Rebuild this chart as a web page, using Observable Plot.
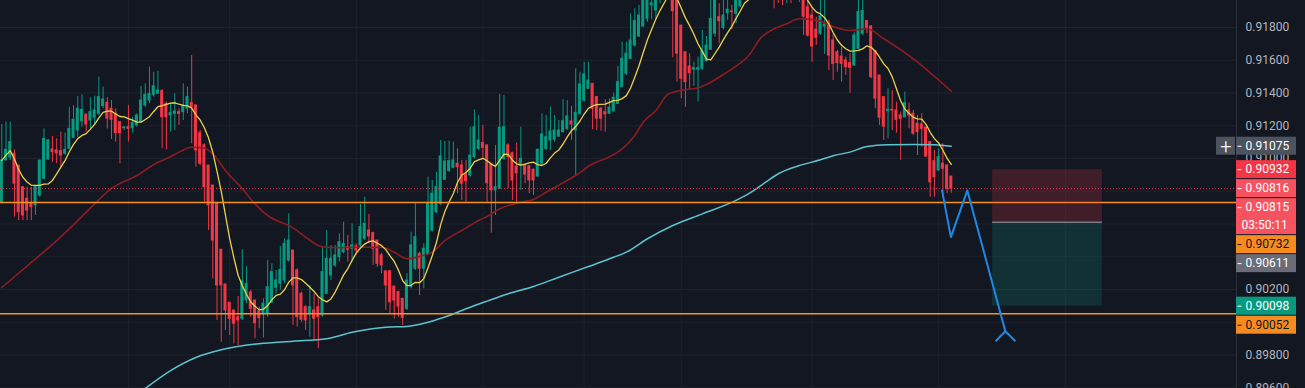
<!DOCTYPE html>
<html><head><meta charset="utf-8">
<script src="https://cdn.jsdelivr.net/npm/d3@7"></script>
<script src="https://cdn.jsdelivr.net/npm/@observablehq/plot@0.6"></script>
<style>
html,body{margin:0;padding:0;background:#131722;overflow:hidden}
#chart{width:1305px;height:388px;overflow:hidden}
</style>
</head><body><div id="chart"></div>
<script>
// ---- candle data (bar index = position in arrays) ----
const barOpen = [0.90733,0.90988,0.91008,0.91029,0.90957,0.90825,0.90754,0.90723,0.90713,0.90774,
0.90876,0.90994,0.91055,0.91049,0.91045,0.91029,0.91059,0.91126,0.91171,0.91228,
0.91267,0.91232,0.91249,0.91273,0.91320,0.91340,0.91304,0.91273,0.91222,0.91185,
0.91191,0.91185,0.91202,0.91222,0.91324,0.91354,0.91389,0.91395,0.91411,0.91334,
0.91263,0.91273,0.91283,0.91283,0.91304,0.91338,0.91324,0.91155,0.91080,0.90957,
0.90835,0.90723,0.90443,0.90231,0.90119,0.90072,0.90031,0.90021,0.90133,0.90182,
0.90133,0.90066,0.90047,0.90052,0.90122,0.90210,0.90235,0.90255,0.90377,0.90438,
0.90316,0.90174,0.90092,0.90052,0.90072,0.90092,0.90041,0.90174,0.90286,0.90347,
0.90397,0.90428,0.90458,0.90449,0.90463,0.90469,0.90510,0.90560,0.90544,0.90499,
0.90408,0.90310,0.90312,0.90218,0.90184,0.90143,0.90082,0.90214,0.90327,0.90418,
0.90327,0.90418,0.90560,0.90672,0.90723,0.90870,0.90923,0.90943,0.90968,0.90957,
0.90902,0.90896,0.91008,0.91059,0.91094,0.91080,0.90968,0.90805,0.90815,0.90998,
0.91080,0.91032,0.90951,0.90957,0.90957,0.90953,0.90931,0.90890,0.90968,0.91059,
0.91110,0.91114,0.91134,0.91161,0.91181,0.91226,0.91171,0.91273,0.91354,0.91426,
0.91456,0.91375,0.91304,0.91283,0.91273,0.91289,0.91334,0.91436,0.91517,0.91609,
0.91690,0.91745,0.91806,0.91853,0.91936,0.91904,0.92014,0.92087,0.92057,0.92118,
0.91965,0.91812,0.91649,0.91562,0.91542,0.91542,0.91548,0.91594,0.91664,0.91762,
0.91863,0.91798,0.91887,0.91898,0.91884,0.91928,0.92026,0.92118,0.92057,0.92148,
0.92209,0.92136,0.92075,0.92148,0.92038,0.91996,0.91977,0.92026,0.91983,0.92038,
0.91996,0.91924,0.91873,0.91786,0.91762,0.91806,0.91823,0.91721,0.91649,0.91623,
0.91599,0.91582,0.91568,0.91670,0.91762,0.91839,0.91806,0.91655,0.91507,0.91375,
0.91289,0.91297,0.91293,0.91263,0.91252,0.91293,0.91273,0.91212,0.91208,0.91188,
0.91100,0.90984,0.90927,0.90968,0.90957,0.90890];

const barHigh = [0.91208,0.91222,0.91222,0.91053,0.90957,0.90825,0.90825,0.90825,0.90829,0.90988,
0.91181,0.91116,0.91134,0.91120,0.91161,0.91155,0.91313,0.91324,0.91379,0.91389,
0.91273,0.91371,0.91381,0.91497,0.91436,0.91371,0.91354,0.91304,0.91222,0.91195,
0.91324,0.91252,0.91273,0.91440,0.91456,0.91558,0.91527,0.91533,0.91421,0.91344,
0.91338,0.91395,0.91304,0.91456,0.91436,0.91629,0.91324,0.91171,0.91090,0.90957,
0.90835,0.90723,0.90443,0.90231,0.90119,0.90072,0.90157,0.90443,0.90340,0.90194,
0.90133,0.90092,0.90143,0.90377,0.90357,0.90316,0.90463,0.90510,0.90662,0.90438,
0.90327,0.90184,0.90102,0.90225,0.90174,0.90143,0.90463,0.90560,0.90469,0.90469,
0.90540,0.90611,0.90530,0.90601,0.90479,0.90719,0.90764,0.90658,0.90550,0.90499,
0.90422,0.90316,0.90316,0.90218,0.90190,0.90143,0.90296,0.90550,0.90733,0.90428,
0.90479,0.90886,0.90866,0.90916,0.91110,0.91104,0.91106,0.91100,0.91059,0.90988,
0.90988,0.91191,0.91297,0.91263,0.91202,0.91080,0.90968,0.91080,0.91391,0.91385,
0.91090,0.91039,0.91094,0.91191,0.90968,0.90957,0.90937,0.91059,0.91273,0.91263,
0.91313,0.91263,0.91232,0.91359,0.91354,0.91318,0.91548,0.91527,0.91588,0.91588,
0.91456,0.91379,0.91313,0.91360,0.91365,0.91399,0.91562,0.91710,0.91710,0.91884,
0.91914,0.91935,0.92057,0.92087,0.92057,0.92118,0.92179,0.92179,0.92209,0.92148,
0.91996,0.91812,0.91649,0.91640,0.91588,0.91619,0.91782,0.91745,0.91965,0.92057,
0.91945,0.91996,0.91996,0.91935,0.92087,0.92148,0.92179,0.92209,0.92240,0.92301,
0.92270,0.92179,0.92209,0.92179,0.92087,0.92057,0.92087,0.92075,0.92099,0.92118,
0.92057,0.91965,0.91924,0.91863,0.91965,0.91965,0.91843,0.91762,0.91660,0.91680,
0.91619,0.91640,0.91771,0.91965,0.91996,0.91843,0.91812,0.91660,0.91507,0.91375,
0.91426,0.91415,0.91344,0.91283,0.91405,0.91338,0.91293,0.91263,0.91273,0.91195,
0.91100,0.91049,0.91059,0.91090,0.90963,0.90890];

const barLow = [0.90723,0.90988,0.90988,0.90642,0.90621,0.90621,0.90621,0.90621,0.90652,0.90764,
0.90876,0.90988,0.90977,0.90968,0.90947,0.91018,0.91059,0.91120,0.91130,0.91191,
0.91161,0.91181,0.91202,0.91263,0.91304,0.91181,0.91116,0.91100,0.90968,0.91171,
0.91100,0.91155,0.91191,0.91222,0.91313,0.91334,0.91375,0.91395,0.91059,0.91053,
0.91161,0.91171,0.91202,0.91232,0.91273,0.91090,0.90947,0.90957,0.90733,0.90560,
0.90265,0.90011,0.89878,0.89950,0.89919,0.89868,0.89858,0.90011,0.90113,0.90031,
0.89899,0.89960,0.89905,0.90031,0.90113,0.90174,0.90194,0.90235,0.90367,0.89980,
0.89970,0.90000,0.89950,0.89909,0.89889,0.89838,0.90031,0.90174,0.90255,0.90336,
0.90367,0.90418,0.90367,0.90367,0.90408,0.90458,0.90499,0.90479,0.90347,0.90336,
0.90296,0.90072,0.90052,0.90021,0.90031,0.89980,0.90072,0.90204,0.90316,0.90163,
0.90204,0.90408,0.90550,0.90662,0.90713,0.90866,0.90916,0.90937,0.90785,0.90744,
0.90733,0.90886,0.90998,0.91049,0.90998,0.90733,0.90544,0.90652,0.90815,0.90988,
0.90815,0.90744,0.90723,0.90805,0.90846,0.90785,0.90774,0.90886,0.90957,0.91049,
0.91049,0.91100,0.91130,0.91157,0.91171,0.91110,0.90896,0.91263,0.91344,0.91420,
0.91175,0.91171,0.91167,0.91161,0.91269,0.91283,0.91330,0.91432,0.91507,0.91603,
0.91680,0.91741,0.91802,0.91832,0.91847,0.91853,0.91945,0.91996,0.91983,0.91615,
0.91466,0.91365,0.91313,0.91420,0.91440,0.91344,0.91538,0.91588,0.91660,0.91741,
0.91701,0.91786,0.91843,0.91786,0.91823,0.91924,0.91996,0.92014,0.92026,0.92087,
0.92057,0.91996,0.92014,0.91914,0.91947,0.91934,0.91947,0.91945,0.91971,0.91953,
0.91751,0.91741,0.91588,0.91690,0.91751,0.91635,0.91537,0.91476,0.91527,0.91466,
0.91507,0.91399,0.91562,0.91664,0.91751,0.91762,0.91487,0.91304,0.91202,0.91110,
0.91120,0.91171,0.91155,0.90988,0.91249,0.91181,0.91141,0.91018,0.91069,0.91008,
0.90764,0.90764,0.90923,0.90764,0.90785,0.90788];

const barClose = [0.90988,0.91053,0.91100,0.90846,0.90672,0.90652,0.90682,0.90703,0.90829,0.90988,
0.91120,0.91110,0.91039,0.91032,0.91018,0.91053,0.91181,0.91236,0.91304,0.91297,
0.91208,0.91283,0.91293,0.91375,0.91360,0.91243,0.91236,0.91155,0.91155,0.91189,
0.91181,0.91218,0.91263,0.91354,0.91389,0.91395,0.91442,0.91415,0.91252,0.91252,
0.91277,0.91287,0.91273,0.91324,0.91375,0.91313,0.91049,0.90968,0.90825,0.90713,
0.90499,0.90225,0.90225,0.90072,0.90021,0.89991,0.90011,0.90249,0.90235,0.90082,
0.89994,0.90025,0.90113,0.90214,0.90306,0.90255,0.90320,0.90479,0.90499,0.90225,
0.90031,0.90015,0.90011,0.90092,0.90021,0.90031,0.90306,0.90388,0.90388,0.90408,
0.90489,0.90479,0.90443,0.90469,0.90438,0.90581,0.90601,0.90524,0.90449,0.90357,
0.90347,0.90225,0.90122,0.90133,0.90096,0.90027,0.90255,0.90469,0.90520,0.90327,
0.90449,0.90723,0.90785,0.90825,0.91012,0.90982,0.90984,0.90988,0.90947,0.90846,
0.90862,0.91018,0.91191,0.91110,0.91065,0.90849,0.90805,0.90825,0.91188,0.91191,
0.91008,0.90866,0.90910,0.90998,0.90902,0.90866,0.90866,0.91053,0.91147,0.91130,
0.91165,0.91171,0.91171,0.91228,0.91257,0.91208,0.91279,0.91452,0.91513,0.91476,
0.91304,0.91243,0.91243,0.91269,0.91310,0.91371,0.91466,0.91609,0.91640,0.91721,
0.91839,0.91873,0.91996,0.92014,0.91948,0.92026,0.92087,0.92057,0.92118,0.91900,
0.91640,0.91487,0.91466,0.91521,0.91552,0.91552,0.91654,0.91690,0.91853,0.91996,
0.91839,0.91873,0.91908,0.91894,0.91996,0.92057,0.92118,0.92057,0.92148,0.92209,
0.92136,0.92075,0.92148,0.92038,0.91996,0.91977,0.92026,0.91983,0.92038,0.91996,
0.91867,0.91751,0.91684,0.91737,0.91867,0.91818,0.91629,0.91578,0.91582,0.91578,
0.91558,0.91554,0.91751,0.91894,0.91900,0.91798,0.91497,0.91365,0.91249,0.91195,
0.91297,0.91293,0.91236,0.91243,0.91338,0.91263,0.91151,0.91161,0.91181,0.91012,
0.90855,0.90886,0.91008,0.90937,0.90815,0.90816];

// ---- moving averages (bar index, value) ----
const slowMaIdx = [0,7,13,18,22,26,32,37,39,42,45,48,50,53,57,60,63,67,68,72,75,77,80,85,90,93,96,99,102,105,
109,113,115,118,123,126,129,133,136,140,143,147,150,152,155,158,162,165,168,171,174,177,180,183,186,189,194,197,201,205,
209,213,217,221,225];
const slowMaVal = [0.90212,0.90365,0.90499,0.90621,0.90723,0.90817,0.90896,0.90977,0.90998,0.91039,
0.91069,0.91063,0.91029,0.90927,0.90815,0.90723,0.90652,0.90601,0.90591,0.90520,
0.90469,0.90458,0.90455,0.90458,0.90458,0.90428,0.90388,0.90402,0.90428,0.90499,
0.90560,0.90621,0.90646,0.90693,0.90733,0.90750,0.90794,0.90852,0.90896,0.90968,
0.90998,0.91059,0.91141,0.91222,0.91293,0.91395,0.91420,0.91432,0.91466,0.91513,
0.91564,0.91629,0.91741,0.91792,0.91823,0.91853,0.91839,0.91806,0.91782,0.91792,
0.91731,0.91664,0.91588,0.91501,0.91411];
const longMaIdx = [34,40,46,52,61,69,77,83,91,96,101,106,110,115,120,126,132,139,145,148,
153,159,166,174,177,181,184,189,194,197,201,205,210,216,221,225];
const longMaVal = [0.89596,0.89705,0.89785,0.89832,0.89869,0.89884,0.89899,0.89939,0.89970,0.89974,
0.90000,0.90041,0.90082,0.90129,0.90174,0.90218,0.90275,0.90340,0.90397,0.90428,
0.90510,0.90591,0.90662,0.90744,0.90785,0.90855,0.90907,0.90957,0.90992,0.91017,
0.91039,0.91073,0.91084,0.91086,0.91084,0.91075];
const fastMaPeriod = 9;

// ---- axis, grid, drawings ----
const priceTicks = [0.896,0.898,0.900,0.902,0.904,0.906,0.908,0.910,0.912,0.914,0.916,0.918];
const timeTicks = [30,54,84,114,138,161,192,222,252];
const lastPrice = 0.90816;
const hLevels = [0.90732, 0.90052];
const posBars = [234.8, 260.8];
const posStop = 0.90932, posEntry = 0.90611, posTarget = 0.90098;
const pathBars = [222.8, 224.9, 228.8, 237.8];
const pathPrices = [0.90805, 0.90520, 0.90805, 0.89945];
const arrowBars = [235.5, 240.2];
const arrowPrices = [0.89884, 0.89884];

const labelPrices = [0.91075, 0.90932, 0.90816, 0.90815, 0.90732, 0.90611, 0.90098, 0.90052];
const labelTexts = ["0.91075","0.90932","0.90816","0.90815","0.90732","0.90611","0.90098","0.90052"];
const labelSubs = ["","","","03:50:11","","","",""];

// ---- styles / layout ----
const W = 1305, H = 388, AXIS_X = 1236, LABEL_END = 1296, BAR0 = 1.3, STEP = 4.22;
const BG = "#131722", GRID = "#1e222d", UP = "#089981", DOWN = "#f23645";
const labelBg = ["#4c525e","#f23645","#f7525f","#f7525f","#f68c1f","#6a6d78","#089981","#f68c1f"];
const labelFg = ["#ffffff","#ffffff","#ffffff","#ffffff","#131722","#ffffff","#ffffff","#131722"];
const ROW_H = 18, GAP = 1;

const xDomain = [-BAR0 / STEP, (AXIS_X - BAR0) / STEP];
const yDomain = [0.918 - 361 / 16375, 0.918 + 27 / 16375];
const xs = d3.scaleLinear(xDomain, [0, AXIS_X]);
const ys = d3.scaleLinear(yDomain, [H, 0]);

const bars = barClose.map((c, i) => ({i, o: barOpen[i], h: barHigh[i], l: barLow[i], c, up: c >= barOpen[i]}));
const slowMa = slowMaIdx.map((i, k) => ({i, v: slowMaVal[k]}));
const longMa = longMaIdx.map((i, k) => ({i, v: longMaVal[k]}));
const path = pathBars.map((x, k) => ({x, y: pathPrices[k]}));
const apex = path[path.length - 1];
const wings = arrowBars.map((x, k) => ({x1: apex.x, y1: apex.y, x2: x, y2: arrowPrices[k]}));

// stack price labels so they don't overlap (like the price scale does)
const order = d3.range(labelPrices.length).sort((a, b) => labelPrices[b] - labelPrices[a]);
let prevBottom = -Infinity;
const boxes = [], rows = [], boxPx = [];
for (const k of order) {
  const h = labelSubs[k] ? ROW_H * 2 : ROW_H;
  const top = Math.max(ys(labelPrices[k]) - ROW_H / 2, prevBottom + GAP);
  prevBottom = top + h;
  boxPx.push([top, top + h]);
  boxes.push({k, y1: ys.invert(top), y2: ys.invert(top + h), bg: labelBg[k]});
  rows.push({text: labelTexts[k], y: ys.invert(top + ROW_H / 2), fg: labelFg[k], dash: true, tx: 1245});
  if (labelSubs[k]) rows.push({text: labelSubs[k], y: ys.invert(top + ROW_H * 1.5), fg: labelFg[k], dash: false, tx: 1241});
}
const firstBox = boxes[0];
// the scale hides tick labels whose centre falls under a price label
const shownTicks = priceTicks.filter(p => {
  const y = ys(p);
  return !boxPx.some(([t, b]) => y >= t && y <= b);
});

const xb1 = xs.invert(AXIS_X), xb2 = xs.invert(LABEL_END);

const chart = Plot.plot({
  width: W, height: H,
  marginLeft: 0, marginRight: W - AXIS_X, marginTop: 0, marginBottom: 0,
  x: {domain: xDomain, axis: null},
  y: {domain: yDomain},
  color: {type: "identity"},
  style: {background: BG, overflow: "hidden", fontFamily: "Roboto, sans-serif", fontSize: "12px"},
  marks: [
    Plot.ruleY(priceTicks, {stroke: GRID, strokeWidth: 1}),
    Plot.ruleX(timeTicks, {stroke: GRID, strokeWidth: 1}),
    // candles
    Plot.ruleX(bars, {x: "i", y1: "l", y2: "h", stroke: d => d.up ? UP : DOWN, strokeWidth: 1, clip: true}),
    Plot.rect(bars, {x1: d => d.i - 0.36, x2: d => d.i + 0.36, y1: d => Math.min(d.o, d.c), y2: d => Math.max(d.o, d.c),
      fill: d => d.up ? UP : DOWN, insetTop: -0.5, insetBottom: -0.5, clip: true}),
    // moving averages
    Plot.line(longMa, {x: "i", y: "v", stroke: "#5cc4cf", strokeWidth: 1.5, curve: "monotone-x", clip: true}),
    Plot.line(slowMa, {x: "i", y: "v", stroke: "#8c1c22", strokeWidth: 1.6, curve: "monotone-x", clip: true}),
    Plot.lineY(bars, Plot.windowY({k: fastMaPeriod, anchor: "end"}, {x: "i", y: "c", stroke: "#ecd24a", strokeWidth: 1.3, clip: true})),
    // price line & horizontal levels
    Plot.ruleY([lastPrice], {stroke: DOWN, strokeWidth: 1, strokeDasharray: "1,2"}),
    Plot.ruleY(hLevels, {stroke: "#f7931a", strokeWidth: 1.5}),
    // position tool
    Plot.rect([{x1: posBars[0], x2: posBars[1], y1: posEntry, y2: posStop}], {x1: "x1", x2: "x2", y1: "y1", y2: "y2", fill: "#f23645", fillOpacity: 0.2}),
    Plot.rect([{x1: posBars[0], x2: posBars[1], y1: posTarget, y2: posEntry}], {x1: "x1", x2: "x2", y1: "y1", y2: "y2", fill: "#089981", fillOpacity: 0.2}),
    Plot.ruleY([posEntry], {x1: posBars[0], x2: posBars[1], stroke: "#787b86", strokeWidth: 1.5}),
    // path drawing
    Plot.line(path, {x: "x", y: "y", stroke: "#1e88e5", strokeWidth: 2}),
    Plot.link(wings, {x1: "x1", y1: "y1", x2: "x2", y2: "y2", stroke: "#1e88e5", strokeWidth: 2}),
    // price scale
    Plot.ruleX([xDomain[1]], {stroke: "#2a2e39", strokeWidth: 1}),
    Plot.axisY(shownTicks, {anchor: "right", tickSize: 0, tickPadding: 9, tickFormat: d3.format(".5f"),
      fill: "#b2b5be", fontSize: 12, label: null}),
    Plot.rect(boxes, {x1: () => xb1, x2: () => xb2, y1: "y1", y2: "y2", fill: "bg"}),
    Plot.ruleY(rows.filter(r => r.dash), {y: "y", x1: () => xs.invert(1237.5), x2: () => xs.invert(1241.5), stroke: "fg", strokeWidth: 1}),
    Plot.text(rows, {x: d => xs.invert(d.tx), y: "y", text: "text", fill: "fg", textAnchor: "start", fontSize: 12}),
    // crosshair "+" button next to the MA label
    Plot.rect([firstBox], {x1: () => xs.invert(1216), x2: () => xs.invert(1235), y1: "y1", y2: "y2", fill: "#4c525e"}),
    Plot.text([firstBox], {x: () => xs.invert(1225.5), y: d => (d.y1 + d.y2) / 2, text: () => "+", fill: "#ffffff", fontSize: 20, fontWeight: 300})
  ]
});
document.getElementById("chart").appendChild(chart);
</script></body></html>
